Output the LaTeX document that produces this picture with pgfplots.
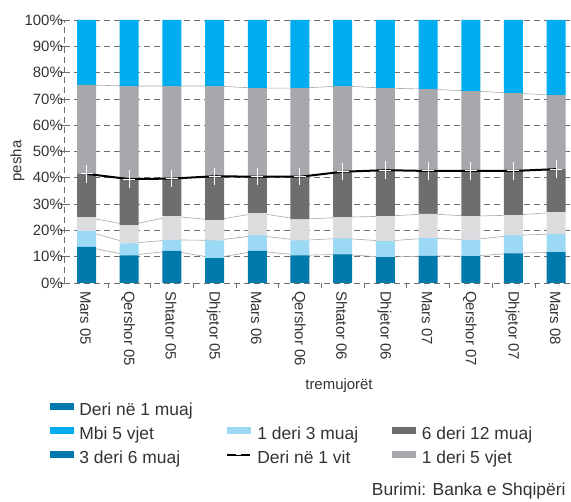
\documentclass[border=0pt]{standalone}
\usepackage{pgfplots}
\pgfplotsset{compat=1.18}
\usepackage{pgfplotstable}
\usepackage{fontspec}
\setmainfont{Liberation Sans}
\definecolor{c1}{HTML}{0079AC}
\definecolor{c2}{HTML}{9BD9F5}
\definecolor{c3}{HTML}{DCDCDE}
\definecolor{c4}{HTML}{6D6E70}
\definecolor{c5}{HTML}{A7A8AB}
\definecolor{c6}{HTML}{00ADEE}
\definecolor{gridc}{HTML}{6E6E6E}
\definecolor{conn}{HTML}{A8A8A8}
\definecolor{txt}{HTML}{333333}

\pgfplotstableread{
x a b c d e f
0 13.7 6.0 5.3 16.5 33.8 24.7
1 10.5 4.6 6.9 17.5 35.4 25.1
2 12.2 4.2 9.0 14.3 35.2 25.1
3 9.5 6.7 7.7 16.7 34.3 25.1
4 12.2 5.9 8.5 13.8 33.7 25.9
5 10.5 5.7 8.0 16.2 33.7 25.9
6 10.9 6.1 8.0 17.3 32.6 25.1
7 9.8 6.1 9.5 17.5 31.2 25.9
8 10.3 6.8 9.2 16.3 31.1 26.3
9 10.2 6.2 9.0 17.2 30.4 27.0
10 11.3 6.8 7.7 16.8 29.6 27.8
11 11.7 7.0 8.2 16.4 28.1 28.6
}\data

\pgfplotsset{common/.style={
  at={(64bp,219bp)}, anchor=south west,
  scale only axis, width=507bp, height=263bp,
  xmin=-0.527, xmax=11.347, ymin=0, ymax=100}}

\begin{document}
\begin{tikzpicture}
\useasboundingbox (0bp,0bp) rectangle (571bp,502bp);
% background axis: grid, ticks, labels, connector lines
\begin{axis}[common,
  stack plots=y,
  axis lines*=left,
  axis line style={gridc, line width=0.6bp, dash pattern=on 6bp off 4bp},
  ymajorgrids,
  grid style={gridc, line width=0.6bp, dash pattern=on 6bp off 4bp},
  ytick={0,10,...,100},
  yticklabels={0\%,10\%,20\%,30\%,40\%,50\%,60\%,70\%,80\%,90\%,100\%},
  xtick={0,...,11},
  xticklabels={Mars 05,Qershor 05,Shtator 05,Dhjetor 05,Mars 06,Qershor 06,Shtator 06,Dhjetor 06,Mars 07,Qershor 07,Dhjetor 07,Mars 08},
  minor xtick={0.5,1.5,...,10.5},
  major x tick style={draw=none},
  minor x tick style={gridc, line width=0.6bp},
  major y tick style={gridc, line width=0.6bp},
  major tick length=8bp, minor tick length=5bp,
  xtick align=outside, ytick align=center,
  yticklabel style={font=\fontsize{15}{15}\selectfont, text=txt, inner sep=0pt, anchor=east, xshift=3bp},
  xticklabel style={font=\fontsize{15}{15}\selectfont, text=txt, inner sep=0pt, rotate=-90, anchor=west, yshift=-1bp},
  ylabel={pesha},
  ylabel style={at={(axis description cs:-0.0917,0.464)}, anchor=center, font=\fontsize{15}{15}\selectfont, text=txt},
  xlabel={tremujorët},
  xlabel style={at={(axis description cs:0.5424,-0.392)}, anchor=center, font=\fontsize{15}{15}\selectfont, text=txt},
]
\addplot[conn, line width=0.6bp, mark=none] table[x=x, y=a] {\data};
\addplot[conn, line width=0.6bp, mark=none] table[x=x, y=b] {\data};
\addplot[conn, line width=0.6bp, mark=none] table[x=x, y=c] {\data};
\addplot[draw=none, mark=none] table[x=x, y=d] {\data};
\addplot[conn, line width=0.6bp, mark=none] table[x=x, y=e] {\data};
\end{axis}
% bars
\begin{axis}[common, hide axis, ybar stacked, bar width=19bp]
\addplot[fill=c1, draw=none] table[x=x, y=a] {\data};
\addplot[fill=c2, draw=none] table[x=x, y=b] {\data};
\addplot[fill=c3, draw=none] table[x=x, y=c] {\data};
\addplot[fill=c4, draw=none] table[x=x, y=d] {\data};
\addplot[fill=c5, draw=none] table[x=x, y=e] {\data};
\addplot[fill=c6, draw=none] table[x=x, y=f] {\data};
\end{axis}
% line "Deri ne 1 vit" and legend
\begin{axis}[common, hide axis, stack plots=y,
  legend columns=3,
  legend style={draw=none, fill=none, inner sep=0pt, outer sep=0pt,
    at={(axis description cs:-0.0276,-0.4563)}, anchor=north west,
    font=\fontsize{17.5}{20}\selectfont, text=txt,
    nodes={inner sep=0pt, text height=12bp, text depth=4bp},
    row sep=8bp,
    /tikz/every odd column/.append style={column sep=6bp}},
  legend cell align=left,
]
\addplot[draw=none, mark=none, forget plot] table[x=x, y=a] {\data};
\addplot[draw=none, mark=none, forget plot] table[x=x, y=b] {\data};
\addplot[draw=none, mark=none, forget plot] table[x=x, y=c] {\data};
\addplot[black, line width=2bp, forget plot,
  mark=+, mark size=6bp, mark options={draw=white, line width=1bp, yscale=1.45, solid}] table[x=x, y=d] {\data};

\addlegendimage{legend image code/.code={\fill[c1] (0bp,2bp) rectangle (23bp,8bp);}}
\addlegendentry{\makebox[147bp][l]{Deri në 1 muaj}}
\addlegendimage{legend image code/.code={\path[draw=none, fill=none] (0bp,2bp) rectangle (23bp,8bp);}}
\addlegendentry{\makebox[135bp][l]{}}
\addlegendimage{legend image code/.code={\path[draw=none, fill=none] (0bp,2bp) rectangle (23bp,8bp);}}
\addlegendentry{\makebox[140bp][l]{}}
\addlegendimage{legend image code/.code={\fill[c6] (0bp,2bp) rectangle (23bp,8bp);}}
\addlegendentry{\makebox[147bp][l]{Mbi 5 vjet}}
\addlegendimage{legend image code/.code={\fill[c2] (0bp,2bp) rectangle (23bp,8bp);}}
\addlegendentry{\makebox[135bp][l]{1 deri 3 muaj}}
\addlegendimage{legend image code/.code={\fill[c4] (0bp,2bp) rectangle (23bp,8bp);}}
\addlegendentry{\makebox[140bp][l]{6 deri 12 muaj}}
\addlegendimage{legend image code/.code={\fill[c1] (0bp,2bp) rectangle (23bp,8bp);}}
\addlegendentry{\makebox[147bp][l]{3 deri 6 muaj}}
\addlegendimage{legend image code/.code={\draw[black, line width=2bp] (0bp,5bp) -- (23bp,5bp); \draw[white, line width=1bp] (9bp,5bp) -- (14bp,5bp);}}
\addlegendentry{\makebox[135bp][l]{Deri në 1 vit}}
\addlegendimage{legend image code/.code={\fill[c5] (0bp,2bp) rectangle (23bp,8bp);}}
\addlegendentry{\makebox[140bp][l]{1 deri 5 vjet}}
\end{axis}
\node[anchor=base east, font=\fontsize{17.5}{20}\selectfont, text=txt] at (569bp,7bp) {Burimi: Banka e Shqipëri};
\end{tikzpicture}
\end{document}
